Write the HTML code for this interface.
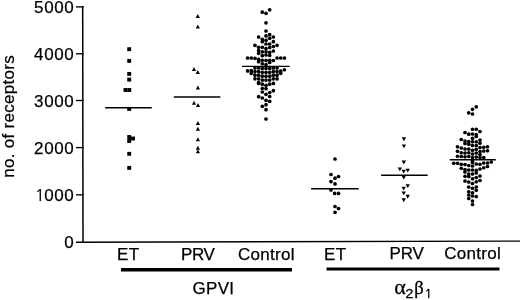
<!DOCTYPE html>
<html><head><meta charset="utf-8"><title>Receptor numbers</title>
<style>html,body{margin:0;padding:0;background:#fff;}svg{display:block;}</style>
</head><body>
<svg width="520" height="300" viewBox="0 0 520 300">
<rect width="520" height="300" fill="#fff"/>
<g stroke="#000" fill="none" stroke-linecap="butt">
<line x1="82.7" y1="6.1" x2="83.0" y2="242.9" stroke-width="1.5"/>
<line x1="76" y1="242.25" x2="520" y2="241.1" stroke-width="1.35"/>
<line x1="76" y1="6.9" x2="83.6" y2="6.9" stroke-width="1.35"/>
<line x1="76" y1="53.8" x2="83.6" y2="53.8" stroke-width="1.35"/>
<line x1="76" y1="100.5" x2="83.6" y2="100.5" stroke-width="1.35"/>
<line x1="76" y1="147.6" x2="83.6" y2="147.6" stroke-width="1.35"/>
<line x1="76" y1="194.8" x2="83.6" y2="194.8" stroke-width="1.35"/>
<line x1="105.2" y1="107.65" x2="151.8" y2="107.65" stroke-width="1.5"/>
<line x1="173.8" y1="97.0" x2="220.4" y2="97.0" stroke-width="1.6"/>
<line x1="242.0" y1="66.35" x2="289.7" y2="66.35" stroke-width="1.35"/>
<line x1="311.1" y1="188.75" x2="358.75" y2="188.75" stroke-width="1.6"/>
<line x1="381.1" y1="175.25" x2="427.7" y2="175.25" stroke-width="1.6"/>
<line x1="449.8" y1="159.7" x2="495.8" y2="159.7" stroke-width="1.6"/>
<line x1="121" y1="269.7" x2="292" y2="269.7" stroke-width="3.4"/>
<line x1="326.5" y1="269" x2="499.5" y2="269" stroke-width="3.2"/>
</g>
<g fill="#000"><rect x="127.25" y="47.25" width="3.9" height="3.9"/><rect x="127.25" y="58.95" width="3.9" height="3.9"/><rect x="127.25" y="71.95" width="3.9" height="3.9"/><rect x="127.25" y="77.65" width="3.9" height="3.9"/><rect x="123.55" y="88.05" width="3.9" height="3.9"/><rect x="127.35" y="88.05" width="3.9" height="3.9"/><rect x="127.25" y="106.95" width="3.9" height="3.9"/><rect x="127.25" y="135.05" width="3.9" height="3.9"/><rect x="127.25" y="139.05" width="3.9" height="3.9"/><rect x="131.05" y="136.55" width="3.9" height="3.9"/><rect x="127.25" y="151.85" width="3.9" height="3.9"/><rect x="127.25" y="165.95" width="3.9" height="3.9"/><path d="M197.80 14.05L199.90 17.95L195.70 17.95Z"/><path d="M197.80 24.55L199.90 28.45L195.70 28.45Z"/><path d="M194.00 67.05L196.10 70.95L191.90 70.95Z"/><path d="M197.80 70.05L199.90 73.95L195.70 73.95Z"/><path d="M197.90 85.55L200.00 89.45L195.80 89.45Z"/><path d="M194.00 100.85L196.10 104.75L191.90 104.75Z"/><path d="M198.00 103.05L200.10 106.95L195.90 106.95Z"/><path d="M197.90 121.05L200.00 124.95L195.80 124.95Z"/><path d="M197.90 126.75L200.00 130.65L195.80 130.65Z"/><path d="M197.90 137.35L200.00 141.25L195.80 141.25Z"/><path d="M197.90 145.85L200.00 149.75L195.80 149.75Z"/><path d="M197.90 149.25L200.00 153.15L195.80 153.15Z"/><circle cx="262.32" cy="12.20" r="1.85"/><circle cx="266.00" cy="13.30" r="1.85"/><circle cx="269.68" cy="9.80" r="1.85"/><circle cx="266.00" cy="22.80" r="1.85"/><circle cx="266.00" cy="31.00" r="1.85"/><circle cx="258.64" cy="37.00" r="1.85"/><circle cx="266.00" cy="35.90" r="1.85"/><circle cx="269.68" cy="34.70" r="1.85"/><circle cx="273.36" cy="37.00" r="1.85"/><circle cx="269.68" cy="38.30" r="1.85"/><circle cx="262.32" cy="39.30" r="1.85"/><circle cx="262.32" cy="41.70" r="1.85"/><circle cx="266.00" cy="40.30" r="1.85"/><circle cx="273.36" cy="41.70" r="1.85"/><circle cx="266.00" cy="44.00" r="1.85"/><circle cx="269.68" cy="44.00" r="1.85"/><circle cx="254.96" cy="45.30" r="1.85"/><circle cx="277.04" cy="45.30" r="1.85"/><circle cx="273.36" cy="46.50" r="1.85"/><circle cx="258.64" cy="47.30" r="1.85"/><circle cx="262.32" cy="47.30" r="1.85"/><circle cx="269.68" cy="47.50" r="1.85"/><circle cx="266.00" cy="48.70" r="1.85"/><circle cx="258.64" cy="50.60" r="1.85"/><circle cx="262.32" cy="51.80" r="1.85"/><circle cx="266.00" cy="51.80" r="1.85"/><circle cx="273.36" cy="51.00" r="1.85"/><circle cx="269.68" cy="52.30" r="1.85"/><circle cx="258.64" cy="53.30" r="1.85"/><circle cx="266.00" cy="55.00" r="1.85"/><circle cx="262.32" cy="55.70" r="1.85"/><circle cx="269.68" cy="55.50" r="1.85"/><circle cx="247.60" cy="58.00" r="1.85"/><circle cx="251.28" cy="58.00" r="1.85"/><circle cx="254.96" cy="58.30" r="1.85"/><circle cx="277.04" cy="58.00" r="1.85"/><circle cx="280.72" cy="58.00" r="1.85"/><circle cx="284.40" cy="58.00" r="1.85"/><circle cx="258.64" cy="59.25" r="1.85"/><circle cx="258.64" cy="61.75" r="1.85"/><circle cx="262.32" cy="60.25" r="1.85"/><circle cx="266.00" cy="60.40" r="1.85"/><circle cx="269.68" cy="60.25" r="1.85"/><circle cx="273.36" cy="60.50" r="1.85"/><circle cx="269.68" cy="62.50" r="1.85"/><circle cx="262.32" cy="63.75" r="1.85"/><circle cx="266.00" cy="64.50" r="1.85"/><circle cx="247.60" cy="70.90" r="1.85"/><circle cx="251.28" cy="70.70" r="1.85"/><circle cx="251.28" cy="73.30" r="1.85"/><circle cx="284.40" cy="69.75" r="1.85"/><circle cx="280.72" cy="71.00" r="1.85"/><circle cx="280.72" cy="73.30" r="1.85"/><circle cx="254.96" cy="68.00" r="1.85"/><circle cx="254.96" cy="71.60" r="1.85"/><circle cx="254.96" cy="75.20" r="1.85"/><circle cx="254.96" cy="78.80" r="1.85"/><circle cx="258.64" cy="68.00" r="1.85"/><circle cx="258.64" cy="71.60" r="1.85"/><circle cx="258.64" cy="75.20" r="1.85"/><circle cx="258.64" cy="78.80" r="1.85"/><circle cx="258.64" cy="82.40" r="1.85"/><circle cx="262.32" cy="68.40" r="1.85"/><circle cx="262.32" cy="72.30" r="1.85"/><circle cx="262.32" cy="76.20" r="1.85"/><circle cx="262.32" cy="80.10" r="1.85"/><circle cx="266.00" cy="68.40" r="1.85"/><circle cx="266.00" cy="72.30" r="1.85"/><circle cx="266.00" cy="76.20" r="1.85"/><circle cx="266.00" cy="80.10" r="1.85"/><circle cx="269.68" cy="68.40" r="1.85"/><circle cx="269.68" cy="72.30" r="1.85"/><circle cx="269.68" cy="76.20" r="1.85"/><circle cx="269.68" cy="80.10" r="1.85"/><circle cx="273.36" cy="68.00" r="1.85"/><circle cx="273.36" cy="71.60" r="1.85"/><circle cx="273.36" cy="75.20" r="1.85"/><circle cx="273.36" cy="78.80" r="1.85"/><circle cx="277.04" cy="68.00" r="1.85"/><circle cx="277.04" cy="71.60" r="1.85"/><circle cx="277.04" cy="75.20" r="1.85"/><circle cx="277.04" cy="78.80" r="1.85"/><circle cx="258.64" cy="83.40" r="1.85"/><circle cx="262.32" cy="84.20" r="1.85"/><circle cx="266.00" cy="85.30" r="1.85"/><circle cx="269.68" cy="84.20" r="1.85"/><circle cx="273.36" cy="83.40" r="1.85"/><circle cx="262.32" cy="88.30" r="1.85"/><circle cx="266.00" cy="88.70" r="1.85"/><circle cx="273.36" cy="90.70" r="1.85"/><circle cx="262.32" cy="92.00" r="1.85"/><circle cx="269.68" cy="92.50" r="1.85"/><circle cx="266.00" cy="94.30" r="1.85"/><circle cx="269.68" cy="96.50" r="1.85"/><circle cx="258.64" cy="96.70" r="1.85"/><circle cx="262.32" cy="98.00" r="1.85"/><circle cx="266.00" cy="100.30" r="1.85"/><circle cx="269.68" cy="101.30" r="1.85"/><circle cx="266.00" cy="104.70" r="1.85"/><circle cx="262.32" cy="106.30" r="1.85"/><circle cx="266.00" cy="109.70" r="1.85"/><circle cx="266.00" cy="119.00" r="1.85"/><circle cx="335.00" cy="159.00" r="1.85"/><circle cx="331.00" cy="174.50" r="1.85"/><circle cx="338.50" cy="176.50" r="1.85"/><circle cx="335.00" cy="178.20" r="1.85"/><circle cx="331.00" cy="181.60" r="1.85"/><circle cx="335.00" cy="183.90" r="1.85"/><circle cx="331.00" cy="190.00" r="1.85"/><circle cx="334.70" cy="193.40" r="1.85"/><circle cx="338.50" cy="193.40" r="1.85"/><circle cx="335.00" cy="206.50" r="1.85"/><circle cx="338.50" cy="208.50" r="1.85"/><circle cx="335.00" cy="212.30" r="1.85"/><path d="M401.70 137.25L406.10 137.25L403.90 141.15Z"/><path d="M401.70 144.45L406.10 144.45L403.90 148.35Z"/><path d="M401.60 160.55L406.00 160.55L403.80 164.45Z"/><path d="M397.60 167.45L402.00 167.45L399.80 171.35Z"/><path d="M401.55 169.70L405.95 169.70L403.75 173.60Z"/><path d="M405.55 168.65L409.95 168.65L407.75 172.55Z"/><path d="M401.55 175.65L405.95 175.65L403.75 179.55Z"/><path d="M405.55 184.20L409.95 184.20L407.75 188.10Z"/><path d="M401.50 186.65L405.90 186.65L403.70 190.55Z"/><path d="M401.55 191.45L405.95 191.45L403.75 195.35Z"/><path d="M405.50 194.75L409.90 194.75L407.70 198.65Z"/><path d="M401.55 198.35L405.95 198.35L403.75 202.25Z"/><circle cx="476.25" cy="106.80" r="1.85"/><circle cx="472.50" cy="109.30" r="1.85"/><circle cx="468.75" cy="112.80" r="1.85"/><circle cx="472.50" cy="114.00" r="1.85"/><circle cx="472.50" cy="129.25" r="1.85"/><circle cx="476.25" cy="129.25" r="1.85"/><circle cx="480.00" cy="131.50" r="1.85"/><circle cx="465.00" cy="132.50" r="1.85"/><circle cx="468.75" cy="134.20" r="1.85"/><circle cx="472.50" cy="134.00" r="1.85"/><circle cx="476.25" cy="134.50" r="1.85"/><circle cx="476.25" cy="136.50" r="1.85"/><circle cx="472.50" cy="138.30" r="1.85"/><circle cx="480.00" cy="140.00" r="1.85"/><circle cx="461.25" cy="139.50" r="1.85"/><circle cx="465.00" cy="141.00" r="1.85"/><circle cx="465.00" cy="143.50" r="1.85"/><circle cx="468.75" cy="141.50" r="1.85"/><circle cx="468.75" cy="144.25" r="1.85"/><circle cx="472.50" cy="141.75" r="1.85"/><circle cx="472.50" cy="145.50" r="1.85"/><circle cx="476.25" cy="141.75" r="1.85"/><circle cx="476.25" cy="145.50" r="1.85"/><circle cx="480.00" cy="143.20" r="1.85"/><circle cx="457.50" cy="146.75" r="1.85"/><circle cx="461.25" cy="148.00" r="1.85"/><circle cx="483.75" cy="147.25" r="1.85"/><circle cx="487.50" cy="146.75" r="1.85"/><circle cx="480.00" cy="147.50" r="1.85"/><circle cx="465.00" cy="149.00" r="1.85"/><circle cx="468.75" cy="149.00" r="1.85"/><circle cx="472.50" cy="150.25" r="1.85"/><circle cx="476.25" cy="149.25" r="1.85"/><circle cx="480.00" cy="151.50" r="1.85"/><circle cx="483.75" cy="151.00" r="1.85"/><circle cx="487.50" cy="150.75" r="1.85"/><circle cx="457.50" cy="151.25" r="1.85"/><circle cx="461.25" cy="152.75" r="1.85"/><circle cx="465.00" cy="153.00" r="1.85"/><circle cx="468.75" cy="152.75" r="1.85"/><circle cx="472.50" cy="154.00" r="1.85"/><circle cx="476.25" cy="153.00" r="1.85"/><circle cx="457.50" cy="156.25" r="1.85"/><circle cx="461.25" cy="156.50" r="1.85"/><circle cx="465.00" cy="156.75" r="1.85"/><circle cx="468.75" cy="156.50" r="1.85"/><circle cx="472.50" cy="157.50" r="1.85"/><circle cx="476.25" cy="157.00" r="1.85"/><circle cx="480.00" cy="157.50" r="1.85"/><circle cx="483.75" cy="157.50" r="1.85"/><circle cx="480.00" cy="154.50" r="1.85"/><circle cx="472.50" cy="161.00" r="1.85"/><circle cx="453.75" cy="163.25" r="1.85"/><circle cx="457.50" cy="163.25" r="1.85"/><circle cx="461.25" cy="164.25" r="1.85"/><circle cx="465.00" cy="164.50" r="1.85"/><circle cx="468.75" cy="165.50" r="1.85"/><circle cx="472.50" cy="162.50" r="1.85"/><circle cx="476.25" cy="164.00" r="1.85"/><circle cx="480.00" cy="164.25" r="1.85"/><circle cx="483.75" cy="163.00" r="1.85"/><circle cx="487.50" cy="163.00" r="1.85"/><circle cx="491.25" cy="162.00" r="1.85"/><circle cx="461.25" cy="168.25" r="1.85"/><circle cx="465.00" cy="169.50" r="1.85"/><circle cx="468.75" cy="170.00" r="1.85"/><circle cx="472.50" cy="170.00" r="1.85"/><circle cx="476.25" cy="170.25" r="1.85"/><circle cx="480.00" cy="169.00" r="1.85"/><circle cx="483.75" cy="167.75" r="1.85"/><circle cx="487.50" cy="166.50" r="1.85"/><circle cx="472.50" cy="166.00" r="1.85"/><circle cx="465.00" cy="172.00" r="1.85"/><circle cx="468.75" cy="174.00" r="1.85"/><circle cx="472.50" cy="174.00" r="1.85"/><circle cx="476.25" cy="173.00" r="1.85"/><circle cx="465.00" cy="176.25" r="1.85"/><circle cx="468.75" cy="176.50" r="1.85"/><circle cx="472.50" cy="178.75" r="1.85"/><circle cx="476.25" cy="177.50" r="1.85"/><circle cx="480.00" cy="176.00" r="1.85"/><circle cx="465.00" cy="181.00" r="1.85"/><circle cx="468.75" cy="182.00" r="1.85"/><circle cx="476.25" cy="181.75" r="1.85"/><circle cx="480.00" cy="180.50" r="1.85"/><circle cx="472.50" cy="183.50" r="1.85"/><circle cx="468.75" cy="187.00" r="1.85"/><circle cx="472.50" cy="188.25" r="1.85"/><circle cx="476.25" cy="187.00" r="1.85"/><circle cx="476.25" cy="190.25" r="1.85"/><circle cx="468.75" cy="191.75" r="1.85"/><circle cx="468.75" cy="195.00" r="1.85"/><circle cx="468.75" cy="198.50" r="1.85"/><circle cx="472.50" cy="192.75" r="1.85"/><circle cx="472.50" cy="196.00" r="1.85"/><circle cx="476.25" cy="196.50" r="1.85"/><circle cx="472.50" cy="201.00" r="1.85"/><circle cx="472.50" cy="204.50" r="1.85"/></g>
<g font-family="Liberation Sans, Arial, sans-serif" font-size="17" fill="#000" stroke="#000" stroke-width="0.25" text-anchor="end" letter-spacing="0.6">
<text x="74.3" y="13.20">5000</text>
<text x="74.3" y="59.80">4000</text>
<text x="74.3" y="106.70">3000</text>
<text x="74.3" y="153.65">2000</text>
<text x="74.3" y="201.30"><tspan font-family="NanumGothic, sans-serif" font-size="16" letter-spacing="-0.6">1</tspan>000</text>
<text x="74.3" y="248.45">0</text>
</g>
<text font-family="Liberation Sans, Arial, sans-serif" font-size="17" letter-spacing="0.3" stroke="#000" stroke-width="0.25" transform="translate(14 177.8) rotate(-90)">no. of receptors</text>
<g font-family="Liberation Sans, Arial, sans-serif" font-size="17" letter-spacing="0.3" fill="#000" stroke="#000" stroke-width="0.25">
<text x="117" y="259.5" letter-spacing="0.3">ET</text>
<text x="181" y="259.5" letter-spacing="-0.45">PRV</text>
<text x="238" y="259.5" letter-spacing="0.3">Control</text>
<text x="324" y="259.5" letter-spacing="0.3">ET</text>
<text x="389.5" y="259" letter-spacing="-0.2">PRV</text>
<text x="444.2" y="258.7" letter-spacing="0.3">Control</text>
<text x="192.4" y="293.7" letter-spacing="0.35">GPVI</text>
</g>
<text font-family="Liberation Serif, serif" font-size="22" stroke="#000" stroke-width="0.3" x="394.2" y="294.3">α</text><text font-family="Liberation Sans, sans-serif" font-size="12.5" stroke="#000" stroke-width="0.3" x="405.4" y="297.7" transform="translate(405.4 0) scale(1.12 1) translate(-405.4 0)">2</text><text font-family="Liberation Serif, serif" font-size="18.5" stroke="#000" stroke-width="0.35" x="414.2" y="294.3">β</text><text font-family="NanumGothic, sans-serif" font-size="12.5" stroke="#000" stroke-width="0.45" x="424.6" y="297.8">1</text>
</svg>
</body></html>
